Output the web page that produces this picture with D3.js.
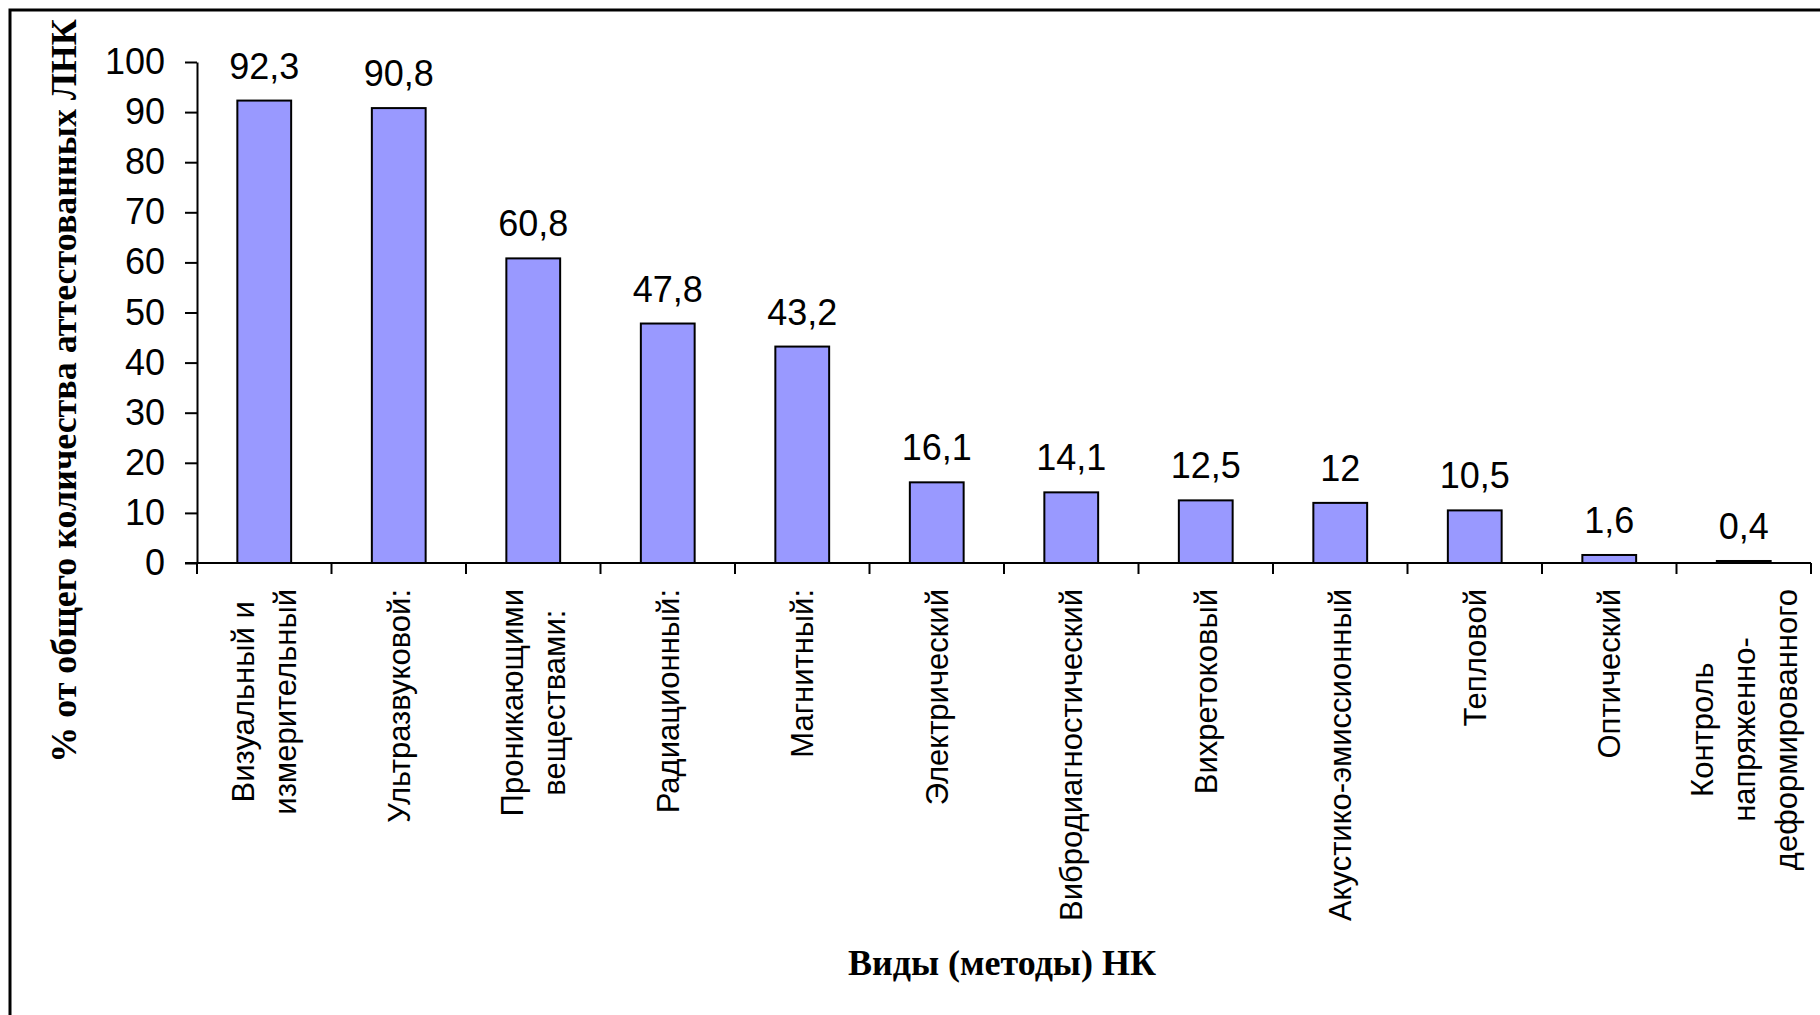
<!DOCTYPE html>
<html>
<head>
<meta charset="utf-8">
<script src="https://cdn.jsdelivr.net/npm/d3@7"></script>
<style>
  body { margin: 0; background: #fff; }
  svg { display: block; }
</style>
</head>
<body>
<div id="chart"></div>
<script>
// Data
var categories = [
  "Визуальный и\nизмерительный",
  "Ультразвуковой:",
  "Проникающими\nвеществами:",
  "Радиационный:",
  "Магнитный:",
  "Электрический",
  "Вибродиагностический",
  "Вихретоковый",
  "Акустико-эмиссионный",
  "Тепловой",
  "Оптический",
  "Контроль\nнапряженно-\nдеформированного"
];
var values = [92.3, 90.8, 60.8, 47.8, 43.2, 16.1, 14.1, 12.5, 12, 10.5, 1.6, 0.4];
var yTicks = [0, 10, 20, 30, 40, 50, 60, 70, 80, 90, 100];
var yTitle = "% от общего количества аттестованных ЛНК";
var xTitle = "Виды (методы) НК";

var data = categories.map(function(c, i) { return { name: c, value: values[i] }; });

var width = 1820, height = 1015;
var sans = "Arial, 'Liberation Sans', sans-serif";
var serif = "'Times New Roman', 'Liberation Serif', serif";

var ru = d3.formatLocale({ decimal: ",", thousands: " ", grouping: [3], currency: ["", ""] });
var fmt = ru.format(".1~f");

var svg = d3.select("#chart").append("svg")
  .attr("width", width)
  .attr("height", height);

// outer frame (runs off the right and bottom edges)
svg.append("rect")
  .attr("x", 10).attr("y", 10)
  .attr("width", width + 20).attr("height", height + 20)
  .style("fill", "#fff")
  .style("stroke", "#000")
  .style("stroke-width", 3);

var x = d3.scaleBand()
  .domain(categories)
  .range([197, 1811])
  .paddingInner(0.6)
  .paddingOuter(0.3);

var y = d3.scaleLinear()
  .domain([0, 100])
  .range([563, 62]);

// bars
svg.selectAll(".bar")
  .data(data)
  .enter().append("rect")
  .attr("class", "bar")
  .attr("x", function(d) { return x(d.name); })
  .attr("y", function(d) { return y(d.value); })
  .attr("width", x.bandwidth())
  .attr("height", function(d) { return y(0) - y(d.value); })
  .style("fill", "#9999FF")
  .style("stroke", "#000")
  .style("stroke-width", 2);

// value labels
svg.selectAll(".val")
  .data(data)
  .enter().append("text")
  .attr("class", "val")
  .attr("x", function(d) { return x(d.name) + x.bandwidth() / 2; })
  .attr("y", function(d) { return y(d.value) - 22; })
  .style("font-family", sans)
  .style("font-size", "36px")
  .style("text-anchor", "middle")
  .text(function(d) { return fmt(d.value); });

// y axis
var yAxis = svg.append("g")
  .attr("transform", "translate(197,0)")
  .call(d3.axisLeft(y).tickValues(yTicks).tickSize(12).tickSizeOuter(0).tickPadding(20));
yAxis.selectAll("path, line").style("stroke", "#000").style("stroke-width", 2);
yAxis.selectAll("text")
  .style("font-family", sans)
  .style("font-size", "36px")
  .style("fill", "#000");

// x axis line + boundary ticks
var x0 = x.range()[0], x1 = x.range()[1];
svg.append("line")
  .attr("x1", x0 - 12).attr("x2", x1)
  .attr("y1", y(0)).attr("y2", y(0))
  .style("stroke", "#000").style("stroke-width", 2);
svg.selectAll(".xtick")
  .data(d3.range(categories.length + 1))
  .enter().append("line")
  .attr("class", "xtick")
  .attr("x1", function(i) { return x0 + i * x.step(); })
  .attr("x2", function(i) { return x0 + i * x.step(); })
  .attr("y1", y(0)).attr("y2", y(0) + 11)
  .style("stroke", "#000").style("stroke-width", 2);

// category labels, rotated, lines centred in block
var labelTop = 589, lineGap = 42;
var labels = svg.selectAll(".cat")
  .data(data)
  .enter().append("g")
  .attr("class", "cat");

labels.each(function(d) {
  var g = d3.select(this);
  var lines = d.name.split("\n");
  var n = lines.length;
  var maxLen = 0;
  lines.forEach(function(line, i) {
    var t = g.append("text")
      .attr("x", 0)
      .attr("y", (i - (n - 1) / 2) * lineGap)
      .attr("dy", "0.35em")
      .style("font-family", sans)
      .style("font-size", "31px")
      .style("text-anchor", "middle")
      .text(line);
    maxLen = Math.max(maxLen, t.node().getComputedTextLength());
  });
  var cx = x(d.name) + x.bandwidth() / 2;
  g.attr("transform", "translate(" + cx + "," + (labelTop + maxLen / 2) + ") rotate(-90)");
});

// axis titles
svg.append("text")
  .attr("transform", "translate(76,391) rotate(-90)")
  .style("font-family", serif)
  .style("font-weight", "bold")
  .style("font-size", "36px")
  .style("text-anchor", "middle")
  .text(yTitle);

svg.append("text")
  .attr("x", 1002)
  .attr("y", 975)
  .style("font-family", serif)
  .style("font-weight", "bold")
  .style("font-size", "36px")
  .style("text-anchor", "middle")
  .text(xTitle);
</script>
</body>
</html>
